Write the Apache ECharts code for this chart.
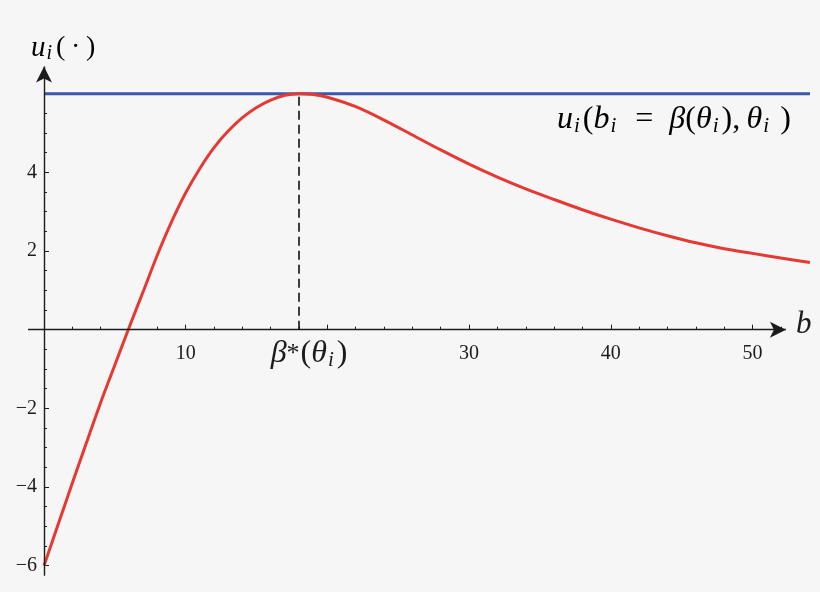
<!DOCTYPE html>
<html>
<head>
    <meta charset="utf-8">
    <title>u_i(b)</title>
    <script src="https://cdn.jsdelivr.net/npm/echarts@6/dist/echarts.min.js"></script>
    <style>
        html, body { margin: 0; padding: 0; background: #f6f6f6; }
        #main { width: 820px; height: 592px; }
    </style>
</head>
<body>
    <div id="main"></div>
    <script>
        // bid b and the utility u_i(b)
        var bids = [0, 1, 2, 3, 4, 5, 6, 7, 8, 9, 10, 11, 12, 13, 14, 15, 16, 17, 18, 19, 20,
                    22, 24, 26, 28, 30, 32, 34, 36, 38, 40, 42, 44, 46, 48, 50, 52, 54.06];
        var utility = [-6, -4.95, -3.9, -2.87, -1.85, -0.9, 0.05, 0.97, 1.9, 2.74, 3.48, 4.1, 4.63, 5.05, 5.39, 5.65, 5.84, 5.96, 6.0, 5.98, 5.91,
                       5.67, 5.33, 4.95, 4.57, 4.21, 3.88, 3.58, 3.31, 3.05, 2.81, 2.59, 2.39, 2.21, 2.06, 1.94, 1.82, 1.71];

        // truthful-bid utility level and the optimal bid
        var flatLevel = 6;
        var betaStar = 18;

        // ticks
        var xLabelValues = [10, 18, 30, 40, 50];
        var xMajorTicks = [10, 20, 30, 40, 50];
        var xMinorTicks = [2, 4, 6, 8, 12, 14, 16, 18, 22, 24, 26, 28, 32, 34, 36, 38, 42, 44, 46, 48, 52];
        var yLabelValues = [-6, -4, -2, 2, 4];
        var yMajorTicks = [-6, -4, -2, 2, 4, 6];
        var yMinorTicks = [-5.5, -5, -4.5, -3.5, -3, -2.5, -1.5, -1, -0.5, 0.5, 1, 1.5, 2.5, 3, 3.5, 4.5, 5, 5.5];

        // plot window and axis arrows
        var xMin = -1.13, xMax = 54.06;
        var yMin = -6.5, yMax = 6.8;
        var xAxisEnd = 52.36, yAxisEnd = 6.69, yAxisStart = -6.26;

        var W = 820, H = 592;
        var gridBox = { left: 28, right: 10, top: 62.26, bottom: 6.7 };
        var plotW = W - gridBox.left - gridBox.right;
        var plotH = H - gridBox.top - gridBox.bottom;
        // shift the axes from the grid edges onto the zero lines (Mathematica style crossing axes)
        var xAxisShift = -(0 - yMin) / (yMax - yMin) * plotH;
        var yAxisShift = -(0 - xMin) / (xMax - xMin) * plotW;

        var serif = "'Liberation Serif', 'DejaVu Serif', serif";
        var ink = '#1c1c1c';
        var M = 32;
        var mathRich = {
            v: { fontFamily: serif, fontStyle: 'italic', fontSize: M, color: ink },
            lead: { fontFamily: serif, fontStyle: 'italic', fontSize: M, color: ink, padding: [0, 0, 0, 20] },
            n: { fontFamily: serif, fontSize: M, color: ink },
            pe: { fontFamily: serif, fontSize: M, color: ink, padding: [0, 0, 0, 8] },
            s: { fontFamily: serif, fontStyle: 'italic', fontSize: 21, color: ink, padding: [13, 3, 0, 1] },
            sup: { fontFamily: serif, fontSize: 26, color: ink, padding: [0, 1, 0, 0] },
            num: { fontFamily: serif, fontSize: 20, color: ink, padding: [7, 0, 0, 0] }
        };

        function minus(v) {
            return v < 0 ? '\u2212' + Math.abs(v) : String(v);
        }

        var curve = bids.map(function (b, i) { return [b, utility[i]]; });

        var myChart = echarts.init(document.getElementById('main'));

        var tickLine = { color: ink, width: 1 };
        var noLine = { show: false, onZero: false };

        option = {
            backgroundColor: '#f6f6f6',
            animation: false,
            grid: {
                left: gridBox.left, right: gridBox.right, top: gridBox.top, bottom: gridBox.bottom,
                containLabel: false,
                outerBoundsMode: 'none'
            },
            xAxis: [{
                type: 'value', position: 'bottom', offset: xAxisShift, min: xMin, max: xMax,
                axisLine: noLine,
                axisTick: { show: true, inside: true, length: 5, customValues: xMajorTicks, lineStyle: tickLine },
                axisLabel: {
                    customValues: xLabelValues,
                    margin: 7,
                    fontFamily: serif, fontSize: 20, color: ink,
                    formatter: function (v) {
                        if (v === betaStar) return '{lead|\u03b2}{sup|*}{n|(}{v|\u03b8}{s|i}{n|)}';
                        return '{num|' + v + '}';
                    },
                    rich: mathRich
                },
                splitLine: { show: false }
            }, {
                type: 'value', position: 'bottom', offset: xAxisShift, min: xMin, max: xMax,
                axisLine: noLine,
                axisTick: { show: true, inside: true, length: 3, customValues: xMinorTicks, lineStyle: tickLine },
                axisLabel: { show: false },
                splitLine: { show: false }
            }],
            yAxis: [{
                type: 'value', position: 'left', offset: yAxisShift, min: yMin, max: yMax,
                axisLine: noLine,
                axisTick: { show: true, inside: true, length: 5, customValues: yMajorTicks, lineStyle: tickLine },
                axisLabel: {
                    customValues: yLabelValues,
                    margin: 7,
                    fontFamily: serif, fontSize: 20, color: ink,
                    formatter: minus
                },
                splitLine: { show: false }
            }, {
                type: 'value', position: 'left', offset: yAxisShift, min: yMin, max: yMax,
                axisLine: noLine,
                axisTick: { show: true, inside: true, length: 3, customValues: yMinorTicks, lineStyle: tickLine },
                axisLabel: { show: false },
                splitLine: { show: false }
            }],
            graphic: [{
                type: 'text', x: 31, y: 48,
                style: {
                    text: '{v|u}{s|i}{n|(\u2009\u00b7\u2009)}',
                    rich: {
                        v: { fontFamily: serif, fontStyle: 'italic', fontSize: 29, color: ink },
                        n: { fontFamily: serif, fontSize: 28, color: ink },
                        s: { fontFamily: serif, fontStyle: 'italic', fontSize: 20, color: ink, padding: [12, 4, 0, 1] }
                    },
                    verticalAlign: 'middle'
                }
            }, {
                type: 'text', x: 796, y: 325,
                style: { text: 'b', fontFamily: serif, fontStyle: 'italic', fontSize: 31, fill: ink, verticalAlign: 'middle' }
            }, {
                type: 'text', x: 557, y: 120,
                style: {
                    text: '{v|u}{s|i}{n|(}{v|b}{s|i}{n|\u2002=\u2002}{v|\u03b2}{n|(}{v|\u03b8}{s|i}{n|),\u2009}{v|\u03b8}{s|i}{pe|)}',
                    rich: mathRich,
                    verticalAlign: 'middle'
                }
            }],
            series: [{
                name: 'truthful',
                type: 'line',
                data: [[0, flatLevel], [xMax, flatLevel]],
                showSymbol: false,
                silent: true,
                lineStyle: { color: '#3c58a8', width: 3 },
                z: 2,
                markLine: {
                    silent: true,
                    animation: false,
                    label: { show: false },
                    lineStyle: { color: ink, width: 1.4, type: 'solid' },
                    data: [
                        [{ coord: [xMin, 0], symbol: 'none' }, { coord: [xAxisEnd, 0], symbol: 'arrow', symbolSize: [12, 16] }],
                        [{ coord: [0, yAxisStart], symbol: 'none' }, { coord: [0, yAxisEnd], symbol: 'arrow', symbolSize: [12, 16] }]
                    ]
                }
            }, {
                name: 'u_i(b)',
                type: 'line',
                data: curve,
                smooth: 0.3,
                showSymbol: false,
                silent: true,
                lineStyle: { color: '#e43a33', width: 3 },
                z: 3,
                markLine: {
                    silent: true,
                    animation: false,
                    symbol: 'none',
                    label: { show: false },
                    lineStyle: { color: '#111', width: 1.6, type: [9, 5] },
                    data: [[{ coord: [betaStar, 0] }, { coord: [betaStar, flatLevel] }]]
                }
            }]
        };
        myChart.setOption(option);
    </script>
</body>
</html>
